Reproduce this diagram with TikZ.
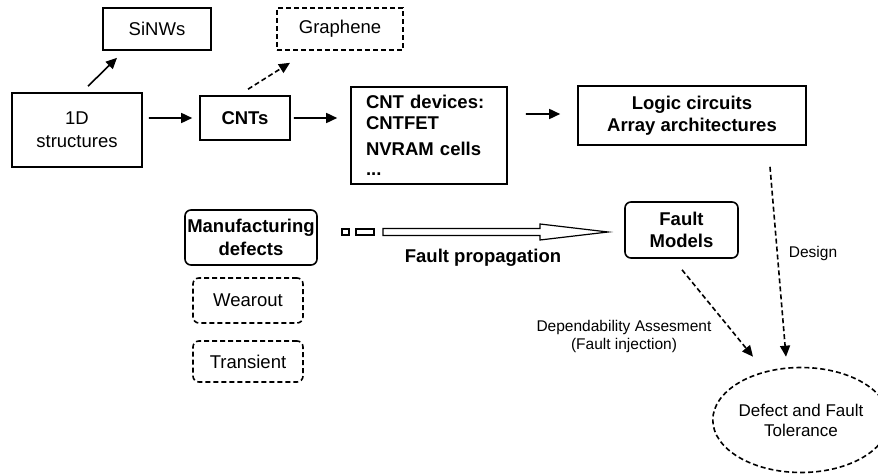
\documentclass[tikz,border=0pt]{standalone}
\usepackage{fontspec}
\setmainfont{Liberation Sans}
\usetikzlibrary{arrows.meta,shapes.geometric}

\begin{document}
\begin{tikzpicture}[x=1bp,y=-1bp,>={Triangle[length=11bp,width=10bp]},
  box/.style={draw,line width=1.6bp,inner sep=0pt,align=center,font=\fontsize{18.5bp}{23bp}\selectfont},
  bbox/.style={box,font=\fontsize{18.5bp}{22.5bp}\selectfont\bfseries},
  dashbox/.style={dash pattern=on 5bp off 3bp},
  link/.style={->,line width=1.6bp},
  smalltext/.style={font=\fontsize{15.5bp}{18bp}\selectfont}]
%
  \useasboundingbox (0,0) rectangle (878,474);
  \node (sinw) at (157,29) [box,minimum width=108bp,minimum height=42bp] {SiNWs};
  \node (graph) at (340,29) [box,dashbox,minimum width=126bp,minimum height=42bp] {Graphene};
  \node (oned) at (77,130) [box,minimum width=130bp,minimum height=74bp] {1D\\structures};
  \node (cnts) at (245,118) [bbox,minimum width=90bp,minimum height=44bp] {CNTs};
  \node (dev) at (429,135.5) [bbox,align=left,text width=126bp,inner xsep=15bp,minimum height=97bp]
    {CNT devices:\\[-2bp]CNTFET\\[4bp]NVRAM cells\\[-3bp]...};
  \node (logic) at (692,115.5) [bbox,minimum width=228bp,minimum height=59bp] {Logic circuits\\Array architectures};
  \node (fm) at (681.5,230) [bbox,rounded corners=6bp,minimum width=113bp,minimum height=56bp] {Fault\\Models};
  \node (manu) at (251,237.5) [bbox,rounded corners=6bp,minimum width=132bp,minimum height=55bp] {Manufacturing\\defects};
  \node (wear) at (248,300.5) [box,dashbox,rounded corners=6bp,minimum width=110bp,minimum height=45bp] {Wearout};
  \node (trans) at (248,361.5) [box,dashbox,rounded corners=6bp,minimum width=110bp,minimum height=41bp] {Transient};
  \node (tol) at (801,420) [box,dashbox,ellipse,minimum width=152bp,minimum height=105bp,
    font=\fontsize{17bp}{20bp}\selectfont] {Defect and Fault\\Tolerance};
%
  \draw [link] ([xshift=11bp,yshift=6bp]oned.north) -- ([xshift=-40bp,yshift=-7bp]sinw.south);
  \draw [link,dashbox] ([xshift=3bp,yshift=6bp]cnts.north) -- ([xshift=-50bp,yshift=-12bp]graph.south);
  \draw [link,shorten <=6bp,shorten >=7bp] ([yshift=12bp]oned.east) -- (cnts.west);
  \draw [link,shorten <=3bp,shorten >=13bp] (cnts.east) -- ([yshift=17.5bp]dev.west);
  \draw [link,shorten <=18bp,shorten >=17bp] ([yshift=21.5bp]dev.east) -- ([yshift=1.5bp]logic.west);
  \draw [link,dashbox] ([xshift=78bp,yshift=-21bp]logic.south) -- ([xshift=-15bp,yshift=10bp]tol.north);
  \draw [link,dashbox] ([xshift=0.5bp,yshift=-11bp]fm.south) -- ([xshift=-48bp,yshift=10bp]tol.north);
%
  \draw [line width=1.2bp] (342,229) rectangle (349,235);
  \draw [line width=1.2bp] (356,229) rectangle (374,235);
  \draw [line width=1.2bp] (383,228.5) -- (540,228.5) -- (540,224) -- (608,232) -- (540,240) -- (540,235.5) -- (383,235.5) -- cycle;
  \node (prop) at (483,258) [font=\fontsize{18.5bp}{22bp}\selectfont\bfseries] {Fault propagation};
  \node (design) at (813,253) [smalltext] {Design};
  \node (dep) at (624,336) [smalltext,align=center] {Dependability Assesment\\(Fault injection)};
%
\end{tikzpicture}
\end{document}
